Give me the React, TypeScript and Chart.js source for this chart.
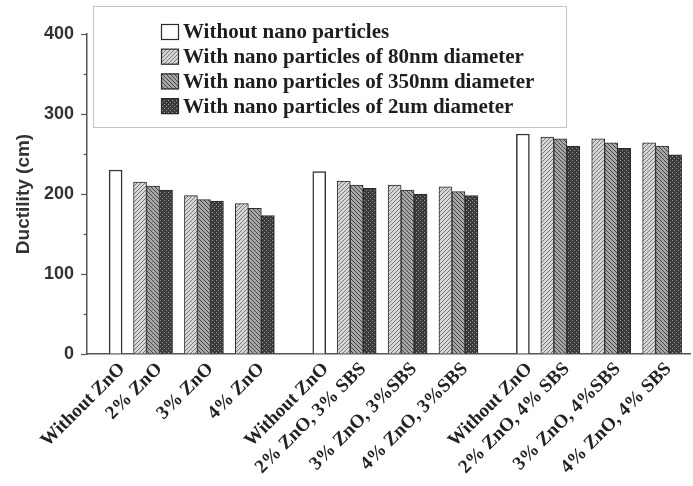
import React, { useEffect, useRef } from 'react';
import { Chart, registerables } from 'chart.js';

Chart.register(...registerables);

const categories = [
  'Without ZnO', '2% ZnO', '3% ZnO', '4% ZnO',
  'Without ZnO', '2% ZnO, 3% SBS', '3% ZnO, 3%SBS', '4% ZnO, 3%SBS',
  'Without ZnO', '2% ZnO, 4% SBS', '3% ZnO, 4%SBS', '4% ZnO, 4% SBS',
];
const seriesLabels = [
  'Without nano particles',
  'With nano particles of 80nm diameter',
  'With nano particles of 350nm diameter',
  'With nano particles of 2um diameter',
];
const withoutNano = [230, null, null, null, 228, null, null, null, 275, null, null, null];
const nano80 = [null, 215, 198, 188, null, 216, 211, 209, null, 271, 269, 264];
const nano350 = [null, 210, 193, 182, null, 211, 205, 203, null, 269, 264, 260];
const nano2um = [null, 205, 191, 173, null, 207, 200, 198, null, 260, 257, 249];
const yTicks = [0, 100, 200, 300, 400];
const yMinorTicks = [50, 150, 250, 350];

const X_MIN = -0.425;
const X_MAX = 11.42;
const WHITE_SHIFT = 0.265;

function makePattern(bg: string, fg: string, kind: string) {
  const c = document.createElement('canvas');
  c.width = 4;
  c.height = 4;
  const g = c.getContext('2d')!;
  g.fillStyle = bg;
  g.fillRect(0, 0, 4, 4);
  g.fillStyle = fg;
  if (kind === '/') for (let i = 0; i < 4; i++) g.fillRect(i, 3 - i, 1, 1);
  if (kind === '\\') for (let i = 0; i < 4; i++) g.fillRect(i, i, 1, 1);
  if (kind === 'dots') {
    g.fillRect(0, 0, 1, 1);
    g.fillRect(2, 2, 1, 1);
  }
  return g.createPattern(c, 'repeat')!;
}

const toPoints = (arr: (number | null)[]) => arr.map((v, i) => ({ x: i, y: v }));

const boxLegend = {
  id: 'boxLegend',
  afterDraw(chart: any) {
    const ctx = chart.ctx as CanvasRenderingContext2D;
    ctx.save();
    ctx.fillStyle = '#ffffff';
    ctx.fillRect(93, 6, 473, 121);
    ctx.strokeStyle = '#c4c4c4';
    ctx.lineWidth = 1;
    ctx.strokeRect(93.5, 6.5, 473, 121);
    chart.data.datasets.forEach((ds: any, i: number) => {
      const cy = 32 + i * 24.7;
      ctx.fillStyle = ds.backgroundColor;
      ctx.fillRect(161, cy - 8, 18, 16);
      ctx.strokeStyle = '#2b2b2b';
      ctx.lineWidth = 1.2;
      ctx.strokeRect(161.5, cy - 7.5, 17, 15);
      ctx.fillStyle = '#1e1e1e';
      ctx.font = 'bold 21px "Liberation Serif", "Times New Roman", serif';
      ctx.textBaseline = 'middle';
      ctx.textAlign = 'left';
      ctx.fillText(ds.label, 183, cy + 1);
    });
    ctx.restore();
  },
};

const minorTicks = {
  id: 'minorTicks',
  afterDraw(chart: any) {
    const y = chart.scales.y;
    const ctx = chart.ctx as CanvasRenderingContext2D;
    ctx.save();
    ctx.strokeStyle = '#555';
    ctx.lineWidth = 1.2;
    yMinorTicks.forEach((v) => {
      const py = Math.round(y.getPixelForValue(v)) + 0.5;
      ctx.beginPath();
      ctx.moveTo(y.right - 3.5, py);
      ctx.lineTo(y.right, py);
      ctx.stroke();
    });
    ctx.restore();
  },
};

const zeroPad = (scale: any) => {
  scale.paddingLeft = 0;
  scale.paddingRight = 0;
  scale.paddingTop = 0;
  scale.paddingBottom = 0;
};

export default function App() {
  const ref = useRef<HTMLCanvasElement>(null);

  useEffect(() => {
    document.body.style.margin = '0';
    const canvas = ref.current!;
    const p80 = makePattern('#d6d6d6', '#7a7a7a', '/');
    const p350 = makePattern('#a6a6a6', '#484848', '\\');
    const p2um = makePattern('#3a3a3a', '#9c9c9c', 'dots');

    const chart = new Chart(canvas, {
      type: 'bar',
      data: {
        datasets: [
          {
            label: seriesLabels[0],
            data: toPoints(withoutNano),
            xAxisID: 'xw',
            backgroundColor: '#ffffff',
            borderColor: '#333333',
            borderWidth: 1.5,
          },
          {
            label: seriesLabels[1],
            data: toPoints(nano80),
            xAxisID: 'x',
            backgroundColor: p80 as any,
            borderColor: '#2b2b2b',
            borderWidth: 1,
          },
          {
            label: seriesLabels[2],
            data: toPoints(nano350),
            xAxisID: 'x',
            backgroundColor: p350 as any,
            borderColor: '#2b2b2b',
            borderWidth: 1,
          },
          {
            label: seriesLabels[3],
            data: toPoints(nano2um),
            xAxisID: 'x',
            backgroundColor: p2um as any,
            borderColor: '#2b2b2b',
            borderWidth: 1,
          },
        ] as any,
      },
      options: {
        responsive: false,
        animation: false,
        layout: { padding: { top: 34, right: 3, left: 0, bottom: 0 } },
        datasets: { bar: { barThickness: 13 } } as any,
        plugins: {
          legend: { display: false },
          tooltip: { enabled: false },
        },
        scales: {
          x: {
            type: 'linear',
            offset: false,
            min: X_MIN,
            max: X_MAX,
            afterBuildTicks: (axis: any) => {
              axis.ticks = categories.map((_, i) => ({
                value: i + (withoutNano[i] != null ? WHITE_SHIFT : 0),
              }));
            },
            afterFit: (scale: any) => {
              scale.height = 132;
              zeroPad(scale);
            },
            ticks: {
              autoSkip: false,
              minRotation: 45,
              maxRotation: 45,
              padding: 4,
              color: '#222',
              font: { family: '"Liberation Serif", "Times New Roman", serif', weight: 'bold', size: 19 },
              callback: (_v: any, index: number) => categories[index],
            },
            grid: { display: false, drawTicks: false, offset: false },
            border: { display: true, color: '#555', width: 1.5 },
          },
          xw: {
            type: 'linear',
            display: false,
            offset: false,
            min: X_MIN - WHITE_SHIFT,
            max: X_MAX - WHITE_SHIFT,
            afterFit: zeroPad,
          },
          y: {
            min: 0,
            max: 400,
            afterBuildTicks: (axis: any) => {
              axis.ticks = yTicks.map((v) => ({ value: v }));
            },
            afterFit: (scale: any) => {
              scale.width = 87;
            },
            ticks: {
              padding: 7,
              color: '#333',
              font: { family: '"Liberation Sans", Arial, sans-serif', weight: 'bold', size: 18 },
            },
            grid: {
              display: true,
              drawOnChartArea: false,
              drawTicks: true,
              tickLength: 6,
              tickColor: '#555',
              tickWidth: 1.2,
            },
            border: { display: true, color: '#555', width: 1.5 },
            title: {
              display: true,
              text: 'Ductility (cm)',
              color: '#333',
              padding: { top: 12, bottom: 0 },
              font: { family: '"Liberation Sans", Arial, sans-serif', weight: 'bold', size: 19 },
            },
          },
        },
      } as any,
      plugins: [boxLegend, minorTicks],
    });
    return () => chart.destroy();
  }, []);

  return (
    <div style={{ width: 693, height: 486 }}>
      <canvas ref={ref} width={693} height={486} />
    </div>
  );
}
